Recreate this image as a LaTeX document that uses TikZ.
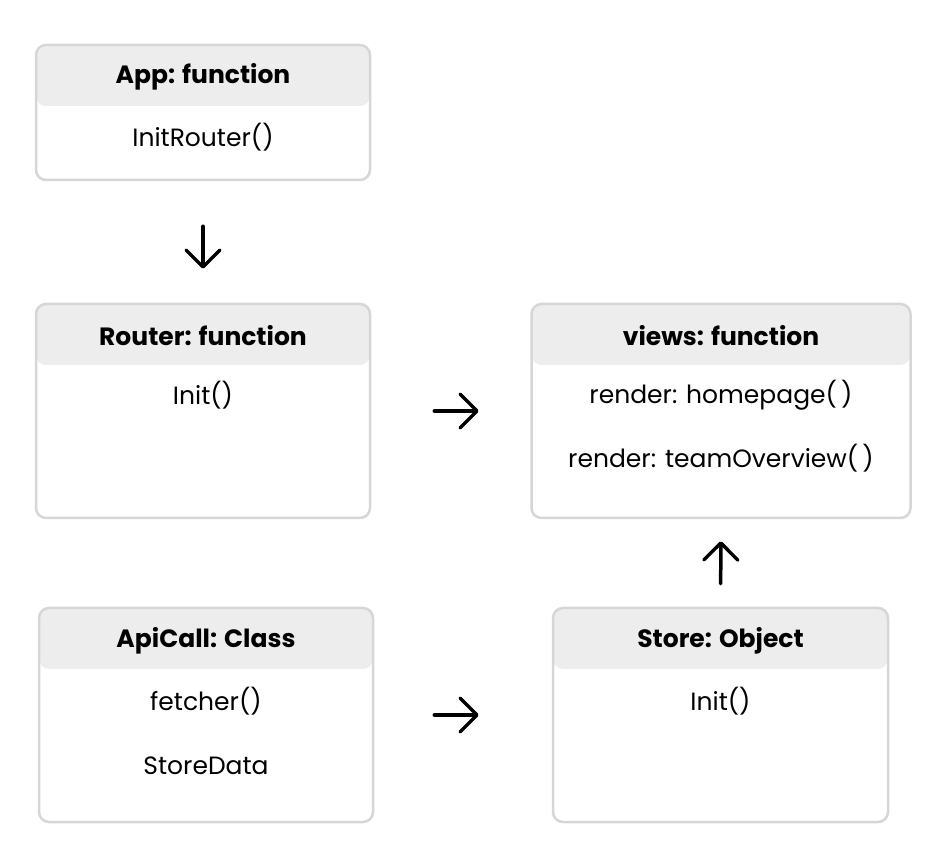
\documentclass[tikz,border=0pt]{standalone}
\usepackage{fontspec}
\setmainfont{Poppins}
\usetikzlibrary{arrows.meta}

\definecolor{boxgray}{HTML}{D6D6D6}
\definecolor{headgray}{HTML}{EDEDED}

\tikzstyle{box}=[rectangle, rounded corners=10pt, draw=boxgray, line width=2.5pt, minimum width=334pt, minimum height=214pt,
	path picture={\fill[headgray] (path picture bounding box.north west) rectangle ([yshift=-61pt]path picture bounding box.north east);}]
\tikzstyle{title}=[font=\fontsize{25}{28}\selectfont\bfseries]
\tikzstyle{entry}=[font=\fontsize{25}{28}\selectfont]
\tikzstyle{flow}=[-{Straight Barb[length=17pt, width=34pt, round]}, line width=3.5pt, line cap=round]

\begin{document}
\begin{tikzpicture}[x=1pt, y=1pt]

	\useasboundingbox (0,0) rectangle (944,864);

	% Kaesten
	\node(app) at (203,751.5) [box, minimum height=135pt] {};
	\node(router) at (203,453) [box] {};
	\node(views) at (721,453) [box, minimum width=379pt] {};
	\node(api) at (206,149) [box] {};
	\node(store) at (720.5,149) [box, minimum width=335pt] {};

	% Texte
	\node(appTitle) at ([yshift=-33pt]app.north) [title] {App: function};
	\node(appInit) at ([yshift=-93pt]app.north) [entry] {InitRouter()};

	\node(routerTitle) at ([yshift=-33pt]router.north) [title] {Router: function};
	\node(routerInit) at ([yshift=-92pt]router.north) [entry] {Init()};

	\node(viewsTitle) at ([yshift=-33pt]views.north) [title] {views: function};
	\node(viewsHome) at ([yshift=-92pt]views.north) [entry] {render: homepage(\,)};
	\node(viewsTeam) at ([yshift=-155pt]views.north) [entry] {render: teamOverview(\,)};

	\node(apiTitle) at ([yshift=-34pt]api.north) [title] {ApiCall: Class};
	\node(apiFetch) at ([yshift=-94pt]api.north) [entry] {fetcher()};
	\node(apiStore) at ([yshift=-159pt]api.north) [entry] {StoreData};

	\node(storeTitle) at ([yshift=-34pt]store.north) [title] {Store: Object};
	\node(storeInit) at ([yshift=-94pt]store.north) [entry] {Init()};

	% Pfeile
	\draw[flow, shorten <=45pt, shorten >=34pt] (app) -- (router);
	\draw[flow, shorten <=63pt, shorten >=51.5pt] (router) -- (views);
	\draw[flow, shorten <=23pt, shorten >=22pt] (store) -- (views);
	\draw[flow, shorten <=60pt, shorten >=73pt] (api) -- (store);

\end{tikzpicture}
\end{document}
